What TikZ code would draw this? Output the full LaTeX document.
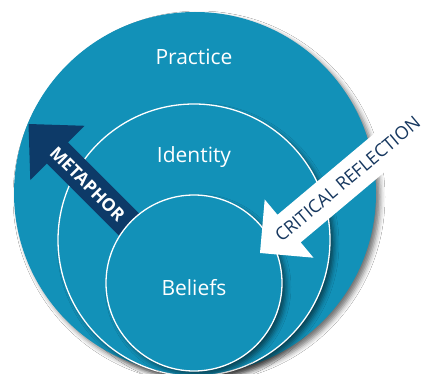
\documentclass[tikz,border=0pt]{standalone}
\usepackage{fontspec}
\setmainfont{Open Sans}
\usetikzlibrary{shadows.blur}
\definecolor{circblue}{RGB}{18,145,184}
\definecolor{navy}{RGB}{13,58,104}
\definecolor{crtext}{RGB}{22,55,95}
\tikzset{
  ring/.style={circle, inner sep=0pt, outer sep=0pt, fill=circblue,
    blur shadow={shadow xshift=4pt, shadow yshift=-4pt, shadow blur radius=5pt, shadow opacity=55}},
  inring/.style={ring, draw=white, line width=1.3pt},
  lbl/.style={text=white, font=\fontsize{21}{24}\selectfont, anchor=base},
  metaarrow/.style={fill=navy},
  crarrow/.style={fill=white},
}
\begin{document}
\begin{tikzpicture}[x=1pt,y=-1pt]
\fill[white] (0,0) rectangle (423,374);
\clip (0,0) rectangle (423,374);
% circles
\node[ring, minimum size=362pt] (practice) at (195,193) {};
\node[inring, minimum size=272pt] (identity) at (194,240) {};
% metaphor arrow
\fill[metaarrow] (28.5,124) -- (84.7,125.8) -- (68.1,142.4) -- (143.1,217.4)
  -- (121.9,238.6) -- (46.9,163.6) -- (30.3,180.2) -- cycle;
\node[rotate=-45, text=white, inner sep=0pt, font=\bfseries\fontsize{17.5}{18}\selectfont] (metaphor) at (87.5,184) {METAPHOR};
\node[inring, minimum size=176pt] (beliefs) at (194,283) {};
% critical reflection arrow
\fill[crarrow] (260,253) -- (313.5,257.7) -- (300.7,242.4) -- (463.1,106.1)
  -- (439.9,78.5) -- (277.5,214.8) -- (264.7,199.5) -- cycle;
\node[rotate=40, text=crtext, inner sep=0pt, font=\fontsize{18}{20}\selectfont] (crit) at (347.5,179) {CRITICAL REFLECTION};
% labels
\node[lbl] (tpractice) at (194,65) {Practice};
\node[lbl] (tidentity) at (194,162.5) {Identity};
\node[lbl] (tbeliefs) at (194,295) {Beliefs};
\end{tikzpicture}
\end{document}
